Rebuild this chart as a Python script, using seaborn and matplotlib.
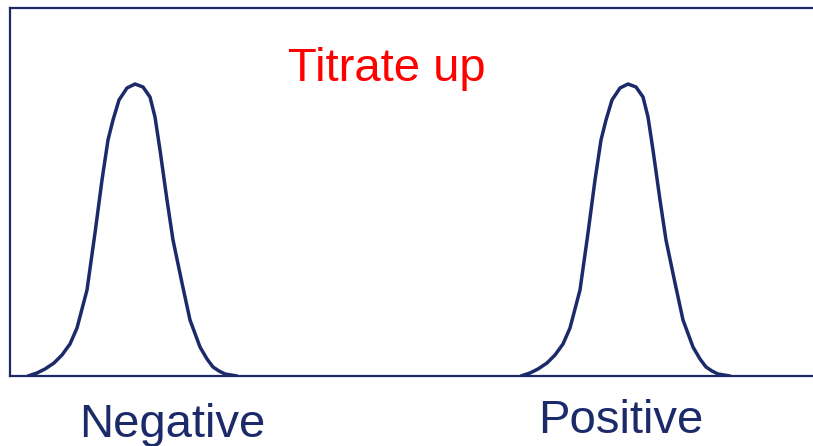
import numpy as np
import pandas as pd
import matplotlib
matplotlib.use("Agg")
import matplotlib.pyplot as plt
import seaborn as sns

# Population peaks (horizontal position of each peak along the axis)
labels = ["Negative", "Positive"]
peak_centers = [125, 618]

# Shape of one hand-drawn peak: offset from its center and height above baseline
profile_dx = [-107, -98, -90, -81, -73, -65, -58, -48, -40, -33, -27, -22, -16, -8, 0,
              8, 15, 20, 25, 32, 38, 47, 55, 65, 72, 78, 84, 90, 102]
profile_h = [0, 3, 7, 13, 21, 32, 48, 86, 143, 196, 236, 256, 276, 288, 292,
             289, 279, 259, 226, 176, 136, 93, 56, 29, 17, 9, 5, 2, 0]

title_text = "Titrate up"

navy = "#1C2A6A"
red = "#FF0000"

sns.set_theme(style="white")
plt.rcParams["font.family"] = ["Liberation Sans", "DejaVu Sans"]

rows = []
for name, c in zip(labels, peak_centers):
    for dx, h in zip(profile_dx, profile_h):
        rows.append({"population": name, "x": c + dx, "h": h})
df = pd.DataFrame(rows)

fig = plt.figure(figsize=(8.13, 4.46), dpi=100)
ax = fig.add_axes([10 / 813, 1 - 376 / 446, 803 / 813, 368 / 446])

for name in labels:
    sub = df[df["population"] == name]
    sns.lineplot(data=sub, x="x", y="h", sort=False, ax=ax, color=navy,
                 linewidth=2.5, estimator=None, legend=False,
                 solid_joinstyle="round", solid_capstyle="round")

ax.set_xlim(0, 803)
ax.set_ylim(0, 368)
ax.set_xticks([])
ax.set_yticks([])
ax.set_xlabel("")
ax.set_ylabel("")
for side in ["left", "top", "bottom"]:
    ax.spines[side].set_visible(True)
    ax.spines[side].set_color(navy)
    ax.spines[side].set_linewidth(1.6)
ax.spines["right"].set_visible(False)

ax.text(377, 295, title_text, color=red, fontsize=34, ha="center", va="baseline")
ax.text(162, -61, labels[0], color=navy, fontsize=34, ha="center", va="baseline", clip_on=False)
ax.text(611, -57, labels[1], color=navy, fontsize=34, ha="center", va="baseline", clip_on=False)

fig.savefig("out.png", dpi=100)
